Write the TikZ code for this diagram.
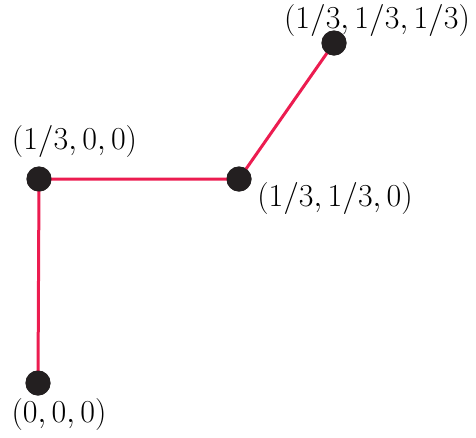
\RequirePackage{fix-cm}
\documentclass[tikz,border=0pt]{standalone}
\definecolor{edgered}{RGB}{236,28,80}
\definecolor{dotblack}{RGB}{35,31,32}
\begin{document}
\begin{tikzpicture}[x=1pt,y=-1pt,
  pt/.style={circle,fill=dotblack,inner sep=0pt,minimum size=25pt},
  lbl/.style={inner sep=0pt,font=\fontsize{32}{38}\selectfont},
  edge/.style={draw=edgered,line width=3pt}]
\useasboundingbox (0,0) rectangle (476,437);
\node[pt] (a) at (38,383) {};
\node[pt] (b) at (39,179) {};
\node[pt] (c) at (239,179) {};
\node[pt] (d) at (334,43) {};
\draw[edge] (a.center) -- (b.center) -- (c.center) -- (d.center);
\foreach \n in {a,b,c,d} \node[pt] at (\n) {};
\node[lbl] (la) at (59,414) {$(0,0,0)$};
\node[lbl] (lb) at (74.5,141) {$(1/3,0,0)$};
\node[lbl] (lc) at (335,198.5) {$(1/3,1/3,0)$};
\node[lbl] (ld) at (377,20) {$(1/3,1/3,1/3)$};
\end{tikzpicture}
\end{document}
